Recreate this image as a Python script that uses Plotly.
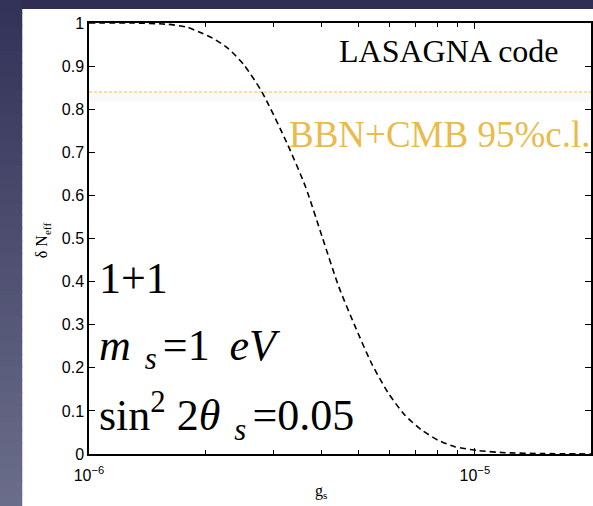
import plotly.graph_objects as go

# Sterile-neutrino contribution to N_eff versus the coupling g_s
g_s = [1.0e-6, 1.3e-6, 1.6e-6, 1.8e-6, 1.93e-6, 2.09e-6, 2.3e-6, 2.52e-6,
       2.81e-6, 3.26e-6, 3.64e-6, 4.02e-6, 4.44e-6, 4.90e-6, 5.40e-6,
       5.97e-6, 6.59e-6, 7.27e-6, 8.03e-6, 8.87e-6, 1.02e-5, 1.2e-5,
       1.5e-5, 2.0e-5]
delta_neff = [1.0, 1.0, 0.997, 0.99, 0.979, 0.965, 0.94, 0.903,
              0.839, 0.721, 0.620, 0.504, 0.388, 0.295, 0.210,
              0.141, 0.090, 0.056, 0.032, 0.017, 0.008, 0.003,
              0.001, 0.0]

bound_value = 0.84          # BBN+CMB 95% c.l. limit
x_range = [1e-6, 2e-5]
x_tickvals = [1e-6, 1e-5]
x_ticktext = ["10<sup>\u22126</sup>", "10<sup>\u22125</sup>"]
x_minor = [2e-6, 3e-6, 4e-6, 5e-6, 6e-6, 7e-6, 8e-6, 9e-6, 2e-5]
y_ticks = [0, 0.1, 0.2, 0.3, 0.4, 0.5, 0.6, 0.7, 0.8, 0.9, 1]
y_ticktext = ["0", "0.1", "0.2", "0.3", "0.4", "0.5", "0.6", "0.7", "0.8", "0.9", "1"]

W, H = 593, 506
ML, MR, MT, MB = 89, 0, 23, 52
PW, PH = W - ML - MR, H - MT - MB


def px(x):
    return (x - ML) / PW


def py(y):
    return (H - MB - y) / PH


SERIF = "Liberation Serif, Times New Roman, serif"
SANS = "Liberation Sans, Arial, Helvetica, sans-serif"

fig = go.Figure()

# faint shading just below the bound line
fig.add_shape(type="rect", xref="paper", yref="y", x0=0, x1=1,
              y0=bound_value - 0.022, y1=bound_value,
              fillcolor="rgba(0,0,0,0.025)", line_width=0, layer="below")

fig.add_trace(go.Scatter(
    x=x_range, y=[bound_value, bound_value],
    mode="lines", line=dict(color="#F2C037", width=1, dash="3px,2px"),
    hoverinfo="skip", showlegend=False))

fig.add_trace(go.Scatter(
    x=g_s, y=delta_neff, mode="lines",
    line=dict(color="black", width=1.6, dash="6px,4px", shape="spline", smoothing=0.7),
    showlegend=False))

# slide background: dark band on top and gradient strip on the left
fig.add_shape(type="rect", xref="paper", yref="paper",
              x0=px(0), x1=px(W + 5), y0=py(-5), y1=py(9),
              fillcolor="#302E52", line_width=0, layer="above")
n_bands = 40
top_rgb = (0x33, 0x32, 0x59)
bot_rgb = (0x6A, 0x6D, 0x89)
for i in range(n_bands):
    t = i / (n_bands - 1)
    c = tuple(int(round(a + (b - a) * t)) for a, b in zip(top_rgb, bot_rgb))
    y0 = i * H / n_bands
    y1 = (i + 1) * H / n_bands + 1
    fig.add_shape(type="rect", xref="paper", yref="paper",
                  x0=px(-2), x1=px(22), y0=py(y1), y1=py(y0),
                  fillcolor="rgb(%d,%d,%d)" % c, line_width=0, layer="above")

ann = [
    dict(text="LASAGNA code", x=px(338), y=py(51), xanchor="left", yanchor="middle",
         font=dict(family=SERIF, size=32, color="black")),
    dict(text="BBN+CMB 95%c.l.", x=px(288), y=py(134), xanchor="left", yanchor="middle",
         font=dict(family=SERIF, size=37, color="#E9BB4D")),
    dict(text="1+1", x=px(97), y=py(278), xanchor="left", yanchor="middle",
         font=dict(family=SERIF, size=44, color="black")),
    dict(text="<i>m</i><sub>\u00a0\u2009<i>s</i>\u2009</sub>=1\u00a0\u2009<i>eV</i>", x=px(97), y=py(348),
         xanchor="left", yanchor="middle",
         font=dict(family=SERIF, size=44, color="black")),
    dict(text="sin<sup>2</sup> 2<i>\u03b8</i><sub>\u00a0\u2009<i>s</i>\u2009</sub>=0.05", x=px(97), y=py(416),
         xanchor="left", yanchor="middle",
         font=dict(family=SERIF, size=44, color="black")),
    dict(text="\u03b4 N<sub>eff</sub>", x=px(42), y=py(240), textangle=-90,
         xanchor="center", yanchor="middle",
         font=dict(family=SERIF, size=16, color="black")),
    dict(text="g<sub>s</sub>", x=px(322), y=py(491), xanchor="center", yanchor="middle",
         font=dict(family=SERIF, size=16, color="black")),
]
for a in ann:
    fig.add_annotation(xref="paper", yref="paper", showarrow=False, **a)

fig.update_xaxes(
    type="log", range=[-6, -4.69897], showgrid=False, zeroline=False,
    showline=True, linecolor="black", linewidth=2, mirror="ticks",
    ticks="inside", ticklen=6, tickcolor="black", tickwidth=1,
    tickvals=x_tickvals, ticktext=x_ticktext, ticklabelstandoff=6,
    tickfont=dict(family=SANS, size=16, color="black"),
    minor=dict(ticks="inside", ticklen=4, tickcolor="black", tickwidth=1,
               tickvals=x_minor, showgrid=False),
)
fig.update_yaxes(
    range=[0, 1], showgrid=False, zeroline=False,
    showline=True, linecolor="black", linewidth=1.5, mirror="ticks",
    ticks="inside", ticklen=6, tickcolor="black", tickwidth=1,
    tickvals=y_ticks, ticktext=y_ticktext,
    tickfont=dict(family=SANS, size=16, color="black"),
)

fig.update_layout(
    width=W, height=H,
    margin=dict(l=ML, r=MR, t=MT, b=MB, pad=0),
    paper_bgcolor="white", plot_bgcolor="white",
    showlegend=False,
)

fig.write_html("out.html")
